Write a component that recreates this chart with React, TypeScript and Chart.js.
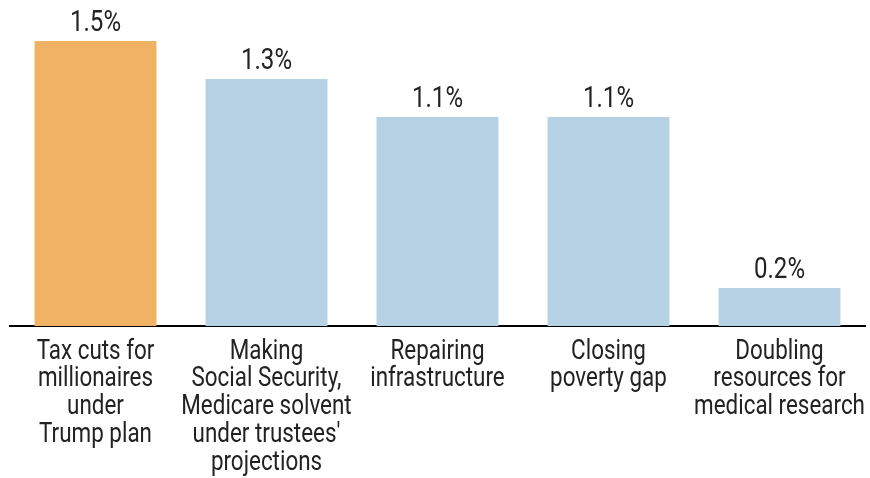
import React, { useEffect, useRef } from "react";
import { Chart, registerables } from "chart.js";

Chart.register(...registerables);

const categories: string[][] = [
  ["Tax cuts for", "millionaires", "under", "Trump plan"],
  ["Making", "Social Security,", "Medicare solvent", "under trustees'", "projections"],
  ["Repairing", "infrastructure"],
  ["Closing", "poverty gap"],
  ["Doubling", "resources for", "medical research"],
];
const values: number[] = [1.5, 1.3, 1.1, 1.1, 0.2];
const valueLabels: string[] = ["1.5%", "1.3%", "1.1%", "1.1%", "0.2%"];
const barColors: string[] = ["#F0B264", "#B6D1E4", "#B6D1E4", "#B6D1E4", "#B6D1E4"];

const FONT = "Roboto, 'Noto Sans', sans-serif";
const SX = 0.83;

function withCondensedText(ctx: any, fn: () => void) {
  const orig = ctx.fillText;
  ctx.fillText = function (t: string, x: number, y: number) {
    this.save();
    this.translate(x, y);
    this.scale(SX, 1);
    orig.call(this, t, 0, 0);
    this.restore();
  };
  try {
    fn();
  } finally {
    delete ctx.fillText;
  }
}

const condensePlugin = {
  id: "condenseTicks",
  afterLayout(chart: any) {
    const sc = chart.scales.x;
    if (sc && !sc.__patched) {
      const orig = sc.drawLabels;
      sc.drawLabels = function (area: any) {
        withCondensedText(chart.ctx, () => orig.call(sc, area));
      };
      sc.__patched = true;
    }
  },
};

const valueLabelPlugin = {
  id: "valueLabels",
  afterDatasetsDraw(chart: any) {
    const ctx = chart.ctx;
    const meta = chart.getDatasetMeta(0);
    ctx.save();
    ctx.font = `400 29px ${FONT}`;
    ctx.fillStyle = "#222222";
    ctx.textAlign = "center";
    ctx.textBaseline = "alphabetic";
    withCondensedText(ctx, () => {
      meta.data.forEach((bar: any, i: number) => {
        ctx.fillText(valueLabels[i], bar.x, bar.y - 10);
      });
    });
    ctx.restore();
  },
};

export default function App() {
  const ref = useRef<HTMLCanvasElement | null>(null);
  useEffect(() => {
    document.body.style.margin = "0";
    const chart = new Chart(ref.current!, {
      type: "bar",
      data: {
        labels: categories,
        datasets: [
          {
            data: values,
            backgroundColor: barColors,
            borderWidth: 0,
            categoryPercentage: 1,
            barPercentage: 0.713,
          },
        ],
      },
      options: {
        responsive: false,
        animation: false,
        layout: { padding: { top: 22, left: 10, right: 5, bottom: 0 } },
        plugins: { legend: { display: false }, tooltip: { enabled: false } },
        scales: {
          x: {
            grid: { display: false, drawTicks: false },
            border: { display: true, color: "#000000", width: 2 },
            ticks: {
              color: "#222222",
              font: { family: FONT, size: 27, weight: 400, lineHeight: 1.03 },
              padding: 12,
              maxRotation: 0,
              autoSkip: false,
            },
            afterFit: (s: any) => {
              s.height = 152;
              s.paddingLeft = 0;
              s.paddingRight = 0;
            },
          },
          y: {
            display: false,
            min: 0,
            max: 1.6,
          },
        },
      },
      plugins: [condensePlugin, valueLabelPlugin],
    });
    return () => chart.destroy();
  }, []);
  return (
    <div style={{ width: 870, height: 478 }}>
      <canvas ref={ref} width={870} height={478} />
    </div>
  );
}
